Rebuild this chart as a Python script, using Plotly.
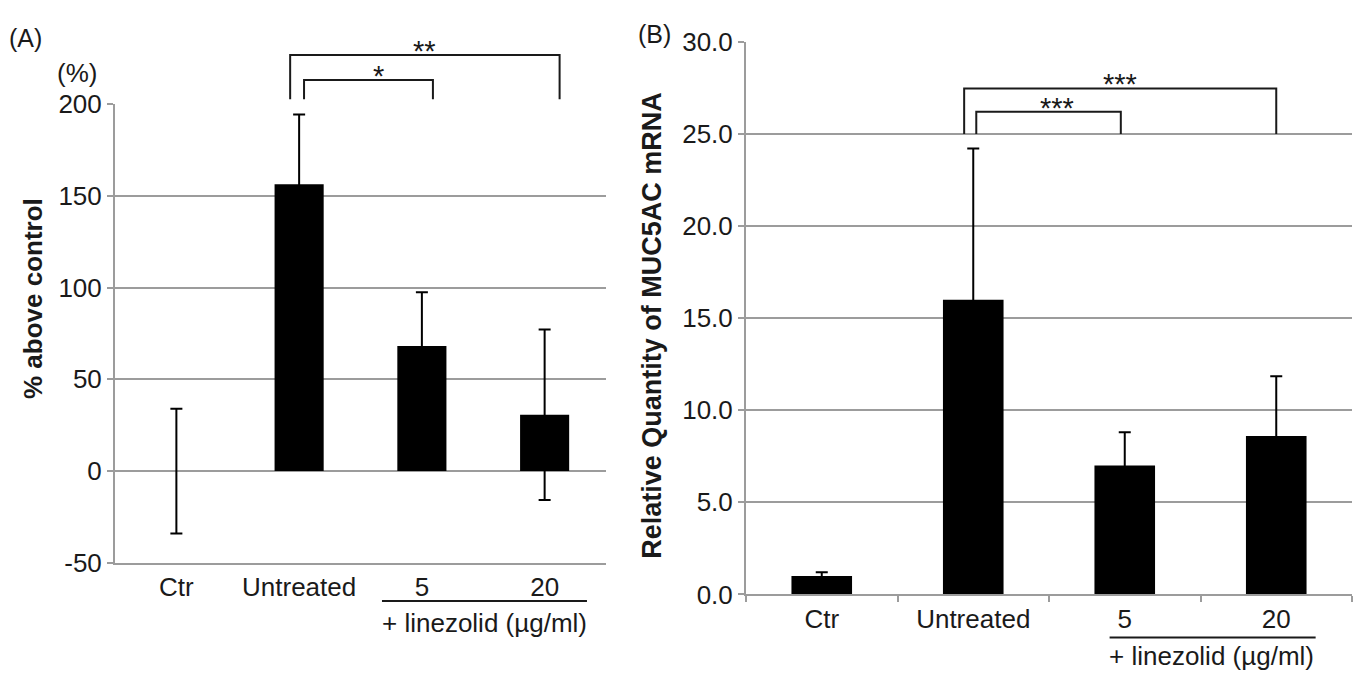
import plotly.graph_objects as go

# ---------------- data ----------------
categories = ["Ctr", "Untreated", "5", "20"]

a_values = [0.0, 156.3, 68.2, 30.7]
a_errors = [34.0, 38.0, 29.2, 46.5]
a_ticks = [-50, 0, 50, 100, 150, 200]
a_tick_labels = ["-50", "0", "50", "100", "150", "200"]
a_range = [-50, 200]

b_values = [1.0, 16.0, 7.0, 8.6]
b_errors = [0.2, 8.2, 1.8, 3.25]
b_ticks = [0, 5, 10, 15, 20, 25, 30]
b_range = [0, 30]

# significance brackets: (left position, right position, top value, base value, label, label position)
a_brackets = [(0.927, 3.122, 226.6, 202.6, "**", 2.02),
              (1.04, 2.09, 213.0, 202.6, "*", 1.65)]
b_brackets = [(0.94, 3.0, 27.47, 25.0, "***", 1.97),
              (1.02, 1.974, 26.2, 25.0, "***", 1.553)]

# group label under the linezolid doses: (start, end, underline value, text value, text position)
a_group = (1.675, 3.345, -70.8, -82.8, 2.51)
b_group = (1.90, 3.26, -2.34, -3.35, 2.57)
group_text = "+ linezolid (µg/ml)"

W, H = 1354, 685
FONT = "Liberation Sans, Arial, Helvetica, sans-serif"
GRID = "#9c9c9c"
INK = "#1a1a1a"
FS = 26

fig = go.Figure()

fig.add_trace(go.Bar(
    x=categories, y=a_values, width=0.4, marker=dict(color="black", line=dict(width=0)),
    error_y=dict(type="data", array=a_errors, visible=True, color="black", thickness=2, width=6),
    xaxis="x", yaxis="y", showlegend=False))

fig.add_trace(go.Bar(
    x=categories, y=b_values, width=0.4, marker=dict(color="black", line=dict(width=0)),
    error_y=dict(type="data", array=b_errors, visible=True, color="black", thickness=2, width=6),
    xaxis="x2", yaxis="y2", showlegend=False))


def frac(v, rng):
    return (v - rng[0]) / (rng[1] - rng[0])


shapes = []
annotations = []


def add_brackets(brackets, xref, yref, rng):
    for x0, x1, top, base, label, lx in brackets:
        path = "M {a},{b} L {a},{t} L {c},{t} L {c},{b}".format(
            a=x0, c=x1, b=frac(base, rng), t=frac(top, rng))
        shapes.append(dict(type="path", path=path, xref=xref, yref=yref + " domain",
                           line=dict(color=INK, width=2)))
        annotations.append(dict(text=label, x=lx, y=frac(top, rng), xref=xref,
                                yref=yref + " domain", showarrow=False, yanchor="middle",
                                yshift=4, font=dict(family=FONT, size=29, color=INK)))


def add_group(group, xref, yref, rng):
    x0, x1, uy, ty, tx = group
    shapes.append(dict(type="line", x0=x0, x1=x1, y0=frac(uy, rng), y1=frac(uy, rng),
                       xref=xref, yref=yref + " domain", line=dict(color=INK, width=2)))
    annotations.append(dict(text=group_text, x=tx, y=frac(ty, rng), xref=xref,
                            yref=yref + " domain", showarrow=False, yanchor="middle",
                            font=dict(family=FONT, size=FS, color=INK)))


add_brackets(a_brackets, "x", "y", a_range)
add_brackets(b_brackets, "x2", "y2", b_range)
add_group(a_group, "x", "y", a_range)
add_group(b_group, "x2", "y2", b_range)

# panel letters, unit and axis titles
annotations += [
    dict(text="(A)", x=7 / W, y=1 - 24 / H, xref="paper", yref="paper", xanchor="left",
         yanchor="middle", showarrow=False, font=dict(family=FONT, size=25, color=INK)),
    dict(text="(%)", x=77 / W, y=1 - 61 / H, xref="paper", yref="paper", xanchor="center",
         yanchor="middle", showarrow=False, font=dict(family=FONT, size=FS, color=INK)),
    dict(text="(B)", x=636 / W, y=1 - 20 / H, xref="paper", yref="paper", xanchor="left",
         yanchor="middle", showarrow=False, font=dict(family=FONT, size=25, color=INK)),
    dict(text="<b>% above control</b>", x=33 / W, y=1 - 297 / H, xref="paper", yref="paper",
         xanchor="center", yanchor="middle", textangle=-90, showarrow=False,
         font=dict(family=FONT, size=FS, color=INK)),
    dict(text="<b>Relative Quantity of MUC5AC mRNA</b>", x=652 / W, y=1 - 325 / H,
         xref="paper", yref="paper", xanchor="center", yanchor="middle", textangle=-90,
         showarrow=False, font=dict(family=FONT, size=27, color=INK)),
]

tickfont = dict(family=FONT, size=FS, color=INK)

fig.update_layout(
    width=W, height=H, margin=dict(l=0, r=0, t=0, b=0),
    paper_bgcolor="white", plot_bgcolor="white",
    shapes=shapes, annotations=annotations,
    xaxis=dict(domain=[115 / W, 606 / W], anchor="y", type="category",
               categoryorder="array", categoryarray=categories, range=[-0.5, 3.5],
               showline=True, linecolor=GRID, linewidth=2, ticks="", showgrid=False,
               tickfont=tickfont, fixedrange=True),
    yaxis=dict(domain=[(H - 573) / H, (H - 93) / H], anchor="x", range=a_range,
               tickvals=a_ticks, ticktext=a_tick_labels, showgrid=True, gridcolor=GRID,
               gridwidth=2, zeroline=False, showline=True, linecolor=GRID, linewidth=2,
               ticks="outside", ticklen=6, tickwidth=2, tickcolor=GRID,
               tickfont=tickfont),
    xaxis2=dict(domain=[746 / W, 1352 / W], anchor="y2", type="category",
                categoryorder="array", categoryarray=categories, range=[-0.5, 3.5],
                showline=True, linecolor=GRID, linewidth=2, ticks="outside",
                tickson="boundaries", ticklen=6, tickwidth=2, tickcolor=GRID,
                showgrid=False, tickfont=tickfont),
    yaxis2=dict(domain=[(H - 606) / H, (H - 28) / H], anchor="x2", range=b_range,
                tickvals=b_ticks, tickformat=".1f", showgrid=True, gridcolor=GRID,
                gridwidth=2, zeroline=False, showline=True, linecolor=GRID, linewidth=2,
                ticks="outside", ticklen=6, tickwidth=2, tickcolor=GRID,
                tickfont=tickfont),
    bargap=0.6,
)

fig.write_html("out.html")
